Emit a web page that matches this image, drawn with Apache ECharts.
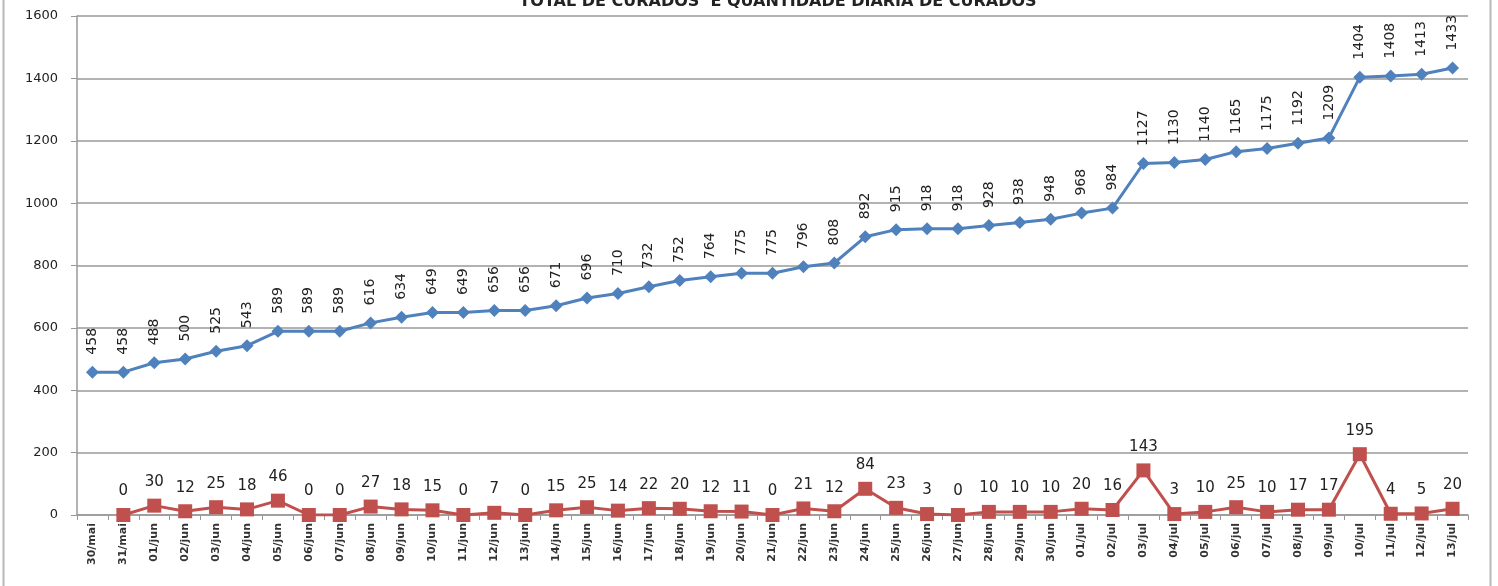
<!DOCTYPE html>
<html><head><meta charset="utf-8">
<script src="https://cdn.jsdelivr.net/npm/echarts@6/dist/echarts.min.js"></script>
<style>html,body{margin:0;padding:0;background:#fff}#c{width:1498px;height:586px}</style>
</head><body><div id="c"></div>
<script>
const categories = ["30/mai","31/mai","01/jun","02/jun","03/jun","04/jun","05/jun","06/jun","07/jun","08/jun","09/jun","10/jun","11/jun","12/jun","13/jun","14/jun","15/jun","16/jun","17/jun","18/jun","19/jun","20/jun","21/jun","22/jun","23/jun","24/jun","25/jun","26/jun","27/jun","28/jun","29/jun","30/jun","01/jul","02/jul","03/jul","04/jul","05/jul","06/jul","07/jul","08/jul","09/jul","10/jul","11/jul","12/jul","13/jul"];
const totalCurados = [458,458,488,500,525,543,589,589,589,616,634,649,649,656,656,671,696,710,732,752,764,775,775,796,808,892,915,918,918,928,938,948,968,984,1127,1130,1140,1165,1175,1192,1209,1404,1408,1413,1433];
const diariosCurados = [null,0,30,12,25,18,46,0,0,27,18,15,0,7,0,15,25,14,22,20,12,11,0,21,12,84,23,3,0,10,10,10,20,16,143,3,10,25,10,17,17,195,4,5,20];
const yTicks = [0,200,400,600,800,1000,1200,1400,1600];

const chart = echarts.init(document.getElementById('c'));
const font = 'DejaVu Sans, Verdana, sans-serif';
chart.setOption({
  animation:false,
  backgroundColor:'#fff',
  title:{text:'TOTAL DE CURADOS  E QUANTIDADE DIARIA DE CURADOS',left:773,textAlign:'center',top:-11,
    textStyle:{fontFamily:font,fontSize:16,fontWeight:'bold',color:'#222'}},
  graphic:[
    {type:'line',shape:{x1:3.5,y1:0,x2:3.5,y2:586},style:{stroke:'#b8b8b8',lineWidth:2}},
    {type:'line',shape:{x1:1490.5,y1:0,x2:1490.5,y2:586},style:{stroke:'#b8b8b8',lineWidth:2}}
  ],
  grid:{left:77,right:30,top:16,bottom:71},
  xAxis:{type:'category',data:categories,boundaryGap:true,
    axisLine:{lineStyle:{color:'#999',width:1.5}},
    axisTick:{show:true,length:5,lineStyle:{color:'#999'}},
    axisLabel:{rotate:90,interval:0,fontFamily:font,fontSize:11,fontWeight:'bold',color:'#333',margin:8}},
  yAxis:{type:'value',min:0,max:1600,interval:200,
    axisLine:{show:true,lineStyle:{color:'#999',width:1.5}},
    axisTick:{show:true,length:6,lineStyle:{color:'#999'}},
    splitLine:{lineStyle:{color:'#999',width:1.5}},
    axisLabel:{fontFamily:font,fontSize:13,color:'#222',margin:19,
      formatter:v=>yTicks.includes(v)?String(v):''}},
  series:[
    {name:'Total',type:'line',data:totalCurados,symbol:'diamond',symbolSize:13,
      lineStyle:{color:'#4f81bd',width:3},itemStyle:{color:'#4f81bd'},
      label:{show:true,position:'top',rotate:90,align:'left',verticalAlign:'middle',distance:11,
        fontFamily:font,fontSize:14,color:'#222'}},
    {name:'Diário',type:'line',data:diariosCurados,symbol:'rect',symbolSize:14,connectNulls:false,
      lineStyle:{color:'#c0504d',width:3},itemStyle:{color:'#c0504d'},
      label:{show:true,position:'top',distance:9,fontFamily:font,fontSize:15,color:'#222'}}
  ]
});
</script></body></html>
